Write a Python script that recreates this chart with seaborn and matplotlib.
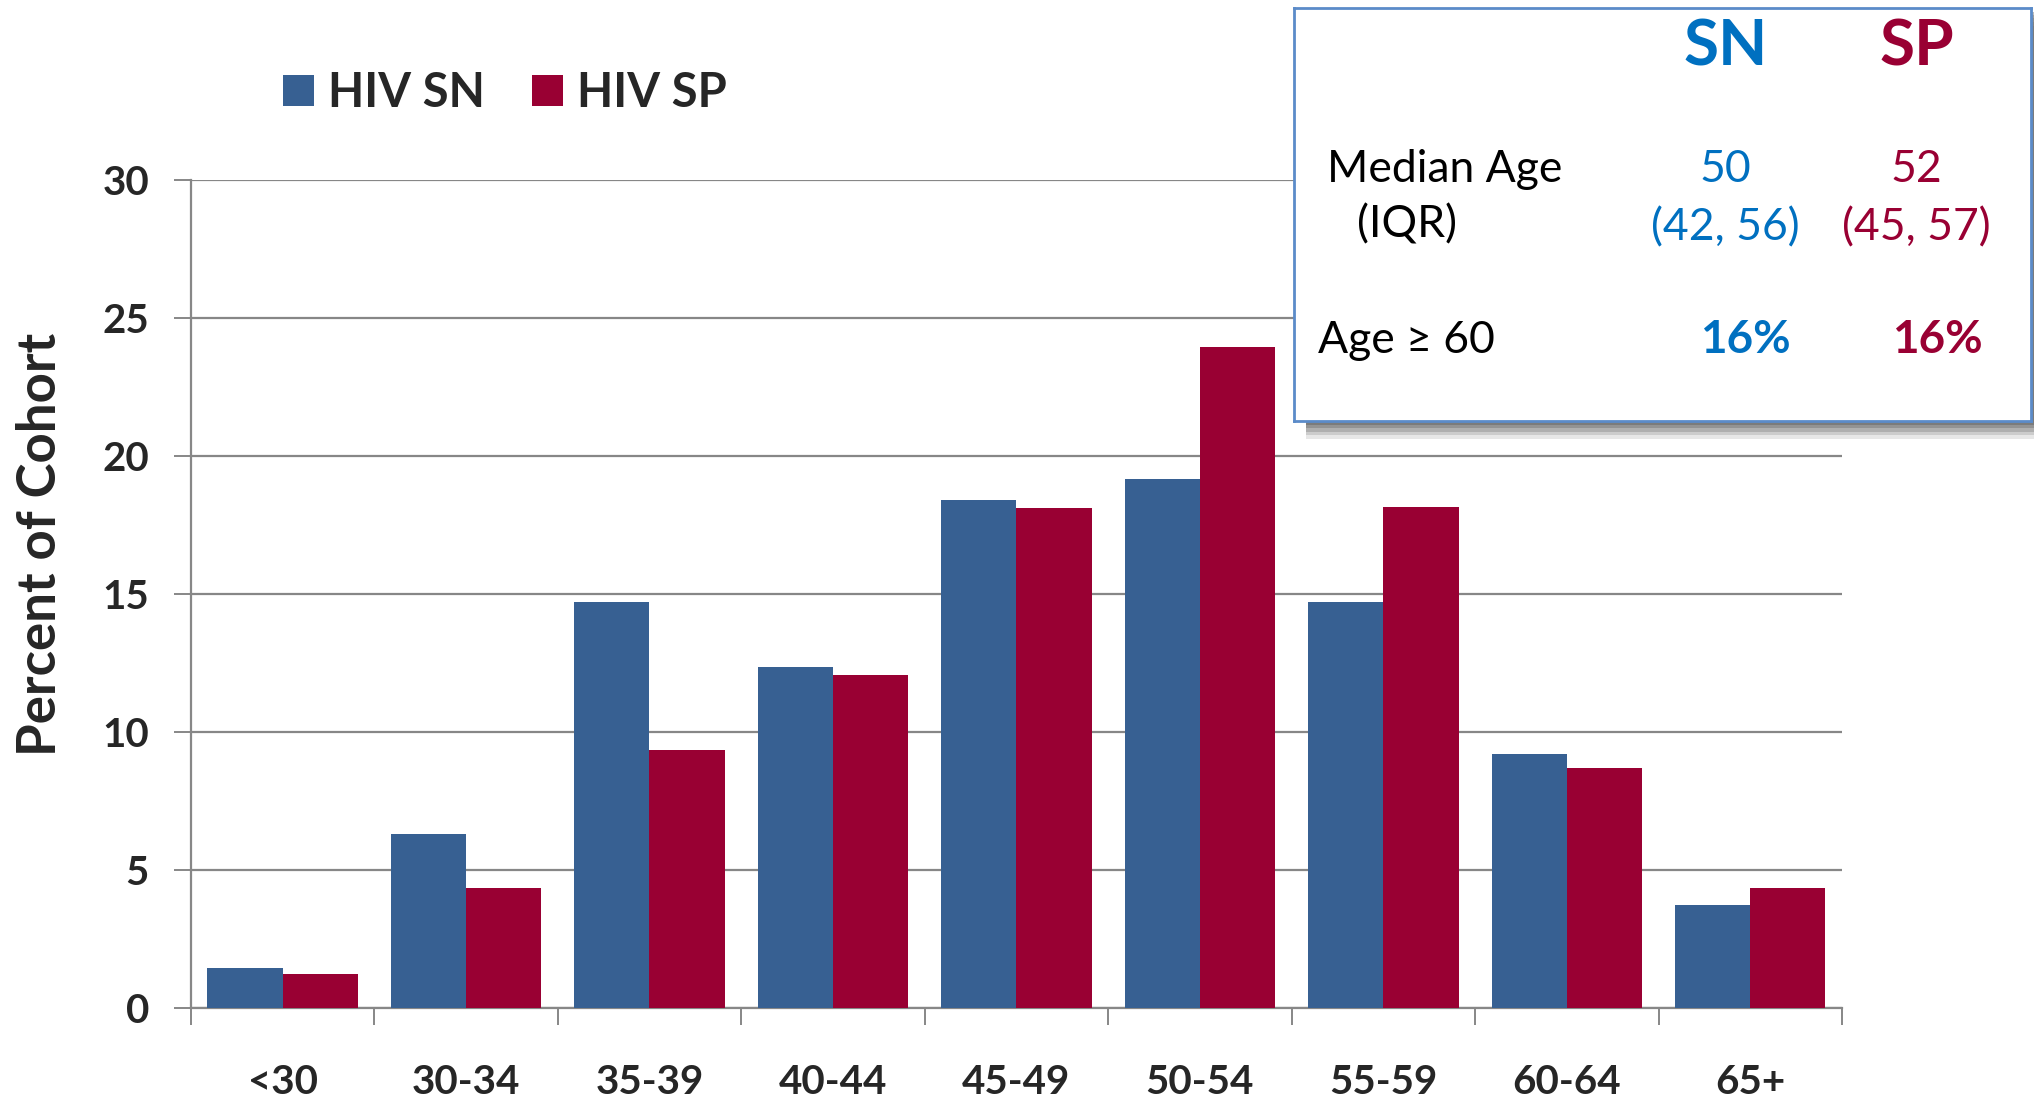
import matplotlib
matplotlib.use("Agg")
import matplotlib.pyplot as plt
import seaborn as sns
import pandas as pd
from matplotlib.patches import Rectangle

# data
age_groups = ['<30', '30-34', '35-39', '40-44', '45-49', '50-54', '55-59', '60-64', '65+']
hiv_sn = [1.45, 6.3, 14.7, 12.35, 18.4, 19.15, 14.7, 9.2, 3.75]
hiv_sp = [1.25, 4.35, 9.35, 12.05, 18.1, 23.95, 18.15, 8.7, 4.35]
series = ['HIV SN', 'HIV SP']
colors = ['#376092', '#990033']

inset_cols = ['SN', 'SP']
inset_colors = ['#0070c0', '#990033']
median_age = ['50', '52']
iqr = ['(42, 56)', '(45, 57)']
age_60_plus = ['16%', '16%']

df = pd.DataFrame({
    'Age': age_groups * 2,
    'Percent': hiv_sn + hiv_sp,
    'Group': [series[0]] * len(age_groups) + [series[1]] * len(age_groups),
})

sns.set_theme(style='white')
plt.rcParams['font.family'] = ['Lato', 'DejaVu Sans']

W, H = 2034, 1097
fig = plt.figure(figsize=(W / 100, H / 100), dpi=100)
ax = fig.add_axes([0.0938, 0.0811, 0.8118, 0.7549])

sns.barplot(data=df, x='Age', y='Percent', hue='Group', palette=colors,
            width=0.82, gap=0, saturation=1, linewidth=0, ax=ax, zorder=3)

handles, labels = ax.get_legend_handles_labels()
ax.get_legend().remove()

grid_c = '#878787'
ax.set_xlim(-0.5, len(age_groups) - 0.5)
ax.set_ylim(0, 30)
ax.set_yticks(range(0, 31, 5))
ax.yaxis.grid(True, color=grid_c, lw=1.6, zorder=0)
ax.set_axisbelow(True)
for s in ['top', 'right']:
    ax.spines[s].set_visible(False)
for s in ['left', 'bottom']:
    ax.spines[s].set_color(grid_c)
    ax.spines[s].set_linewidth(1.6)

# ticks between categories, labels in the middle
ax.set_xticks([i - 0.5 for i in range(len(age_groups) + 1)], minor=True)
ax.tick_params(axis='x', which='minor', length=12, width=1.4, color=grid_c, direction='out', bottom=True)
ax.tick_params(axis='x', which='major', length=0, pad=40, labelsize=29)
ax.tick_params(axis='y', length=12, width=1.4, color=grid_c, direction='out', left=True, pad=18, labelsize=29)
for lab in ax.get_xticklabels() + ax.get_yticklabels():
    lab.set_fontweight('bold')

ax.set_xlabel('')
ax.set_ylabel('Percent of Cohort', fontsize=38, fontweight='bold')
ax.yaxis.set_label_coords(-0.076, 0.56)

fig.legend(handles, labels, loc='center left', bbox_to_anchor=(283 / W, 1 - 93 / H),
           ncol=2, frameon=False, borderpad=0, borderaxespad=0,
           handlelength=0.65, handleheight=0.65, handletextpad=0.3, columnspacing=1.0,
           prop={'weight': 'bold', 'size': 34})

# inset summary box with soft shadow
bx0, by0, bx1, by1 = 1294, 8, 2031, 421
box = [bx0 / W, 1 - by1 / H, (bx1 - bx0) / W, (by1 - by0) / H]
for k, a in enumerate([0.14, 0.18, 0.24, 0.3, 0.38]):
    off = (5 - k) * 3.5
    fig.patches.append(Rectangle((box[0] + 12 / W, box[1] - off / H), box[2], box[3],
                                 transform=fig.transFigure, facecolor='#555555',
                                 alpha=a, edgecolor='none', zorder=4))
iax = fig.add_axes(box, zorder=5)
iax.set_facecolor('white')
iax.set_xticks([])
iax.set_yticks([])
iax.set_xlim(0, 1)
iax.set_ylim(0, 1)
for s in iax.spines.values():
    s.set_color('#5b8bc9')
    s.set_linewidth(2)

col_x = [0.585, 0.845]
for i in range(2):
    iax.text(col_x[i], 0.905, inset_cols[i], color=inset_colors[i], fontsize=46,
             fontweight='bold', ha='center', va='center')
    iax.text(col_x[i], 0.608, median_age[i], color=inset_colors[i], fontsize=32,
             ha='center', va='center')
    iax.text(col_x[i], 0.468, iqr[i], color=inset_colors[i], fontsize=32,
             ha='center', va='center')
    iax.text(col_x[i] + 0.028, 0.195, age_60_plus[i], color=inset_colors[i], fontsize=33,
             fontweight='bold', ha='center', va='center')

iax.text(0.045, 0.61, 'Median Age', fontsize=32, ha='left', va='center', color='black')
iax.text(0.085, 0.475, '(IQR)', fontsize=32, ha='left', va='center', color='black')
iax.text(0.032, 0.195, 'Age ≥ 60', fontsize=32, ha='left', va='center', color='black')

fig.savefig('out.png', dpi=100, facecolor='white')
